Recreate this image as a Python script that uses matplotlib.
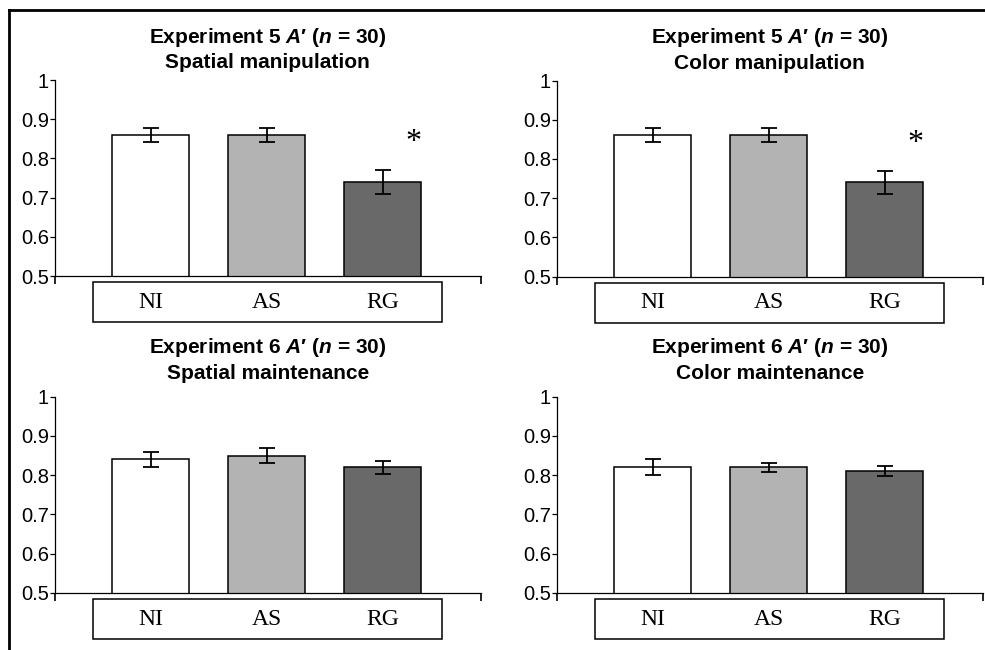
import matplotlib
matplotlib.use('Agg')
import matplotlib.pyplot as plt
from matplotlib.patches import Rectangle
from matplotlib.lines import Line2D

plt.rcParams['font.family'] = ['Liberation Sans', 'DejaVu Sans']
plt.rcParams['mathtext.fontset'] = 'custom'
plt.rcParams['mathtext.it'] = 'Liberation Sans:italic:bold'
plt.rcParams['mathtext.rm'] = 'Liberation Sans:bold'

groups = ['NI', 'AS', 'RG']
bar_colors = ['white', '#b3b3b3', '#696969']

titles = [
    ('Experiment 5 $A$\u2032 ($n$ = 30)', 'Spatial manipulation'),
    ('Experiment 5 $A$\u2032 ($n$ = 30)', 'Color manipulation'),
    ('Experiment 6 $A$\u2032 ($n$ = 30)', 'Spatial maintenance'),
    ('Experiment 6 $A$\u2032 ($n$ = 30)', 'Color maintenance'),
]

# A' means and error bars (NI, AS, RG)
spatial_manip = [0.86, 0.86, 0.74]
spatial_manip_err = [0.018, 0.018, 0.031]
color_manip = [0.86, 0.86, 0.74]
color_manip_err = [0.018, 0.018, 0.030]
spatial_maint = [0.84, 0.85, 0.82]
spatial_maint_err = [0.020, 0.019, 0.017]
color_maint = [0.82, 0.82, 0.81]
color_maint_err = [0.021, 0.011, 0.012]

means = [spatial_manip, color_manip, spatial_maint, color_maint]
errs = [spatial_manip_err, color_manip_err, spatial_maint_err, color_maint_err]
star = [True, True, False, False]   # RG significant

fig = plt.figure(figsize=(9.85, 6.5), dpi=100)

# axes positions in pixels: left, y of value 0.5 (from top)
pos = [(55, 276), (557, 276.5), (55, 592.7), (557, 592.7)]
title_shift = [0, 0, 0.032, 0.032]
W, H = 425.5, 196

x = list(range(3))
for i in range(4):
    px, py = pos[i]
    ax = fig.add_axes([px / 985, 1 - py / 650, W / 985, H / 650])
    ax.bar(x, means[i], width=0.665, color=bar_colors, edgecolor='black',
           linewidth=1.1, zorder=2)
    ax.errorbar(x, means[i], yerr=errs[i], fmt='none', ecolor='black',
                elinewidth=1.3, capsize=6, capthick=1.3, zorder=3)
    ax.set_ylim(0.5, 1)
    ax.set_xlim(-0.825, 2.845)
    ax.set_yticks([0.5, 0.6, 0.7, 0.8, 0.9, 1])
    ax.set_yticklabels(['0.5', '0.6', '0.7', '0.8', '0.9', '1'])
    ax.set_xticks(ax.get_xlim())
    ax.set_xticklabels([])
    ax.tick_params(axis='y', direction='out', length=3.5, width=0.9,
                   labelsize=14.5, pad=1)
    ax.tick_params(axis='x', direction='out', length=6, width=1.2)
    for s in ['top', 'right']:
        ax.spines[s].set_visible(False)
    for s in ['left', 'bottom']:
        ax.spines[s].set_linewidth(0.9)

    # category box under the axis
    ax.add_patch(Rectangle((0.09, -0.237), 0.82, 0.205, transform=ax.transAxes,
                           facecolor='white', edgecolor='black', linewidth=1.1,
                           clip_on=False))
    for j, g in enumerate(groups):
        ax.text(j, -0.135, g, transform=ax.get_xaxis_transform(),
                ha='center', va='center', fontsize=17,
                family=['Liberation Serif', 'DejaVu Serif'])

    if star[i]:
        ax.text(2.27, 0.84, '*', ha='center', va='center', fontsize=23,
                family=['Liberation Serif', 'DejaVu Serif'])

    ts = title_shift[i]
    ax.text(0.5, 1.06 + ts, titles[i][1], transform=ax.transAxes, ha='center',
            va='baseline', fontsize=15, fontweight='bold')
    ax.text(0.5, 1.19 + ts, titles[i][0], transform=ax.transAxes, ha='center',
            va='baseline', fontsize=15, fontweight='bold')

# outer frame (top and left edges)
fig.add_artist(Line2D([9 / 985, 1], [1 - 10 / 650, 1 - 10 / 650],
                      transform=fig.transFigure, color='black', linewidth=2))
fig.add_artist(Line2D([9 / 985, 9 / 985], [1 - 10 / 650, 0],
                      transform=fig.transFigure, color='black', linewidth=2))

fig.savefig('out.png', dpi=100)
